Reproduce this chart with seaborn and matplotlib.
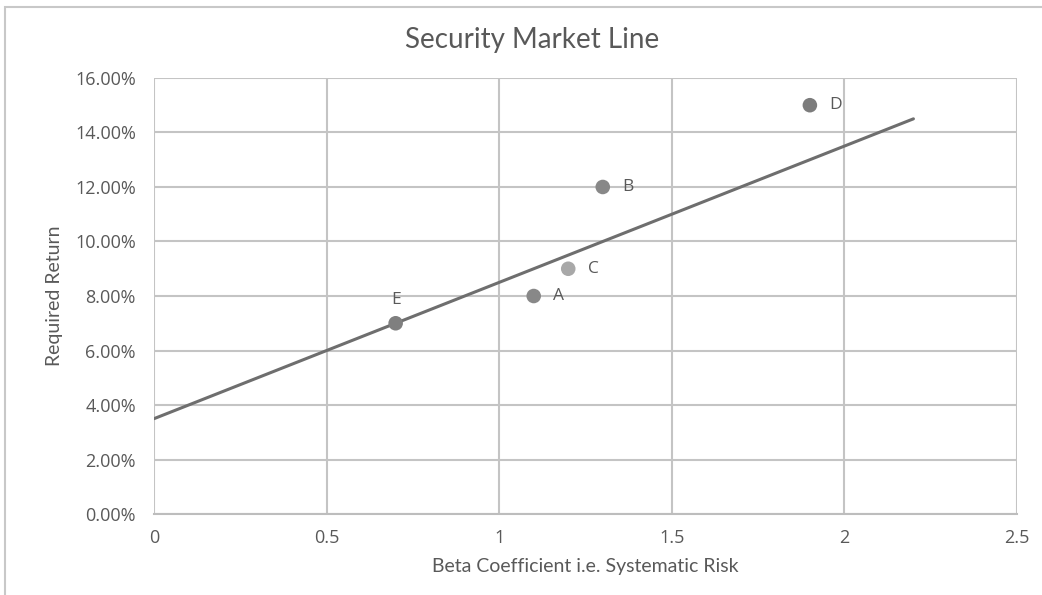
import matplotlib
matplotlib.use("Agg")
import matplotlib.pyplot as plt
from matplotlib.patches import Rectangle
from matplotlib.ticker import PercentFormatter, MultipleLocator
import seaborn as sns
import pandas as pd

# Securities plotted against the SML
securities = ["A", "B", "C", "D", "E"]
betas = [1.1, 1.3, 1.2, 1.9, 0.7]
returns = [0.08, 0.12, 0.09, 0.15, 0.07]
point_colors = ["#888888", "#888888", "#a8a8a8", "#7c7c7c", "#7f7f7f"]

# Security Market Line end points
line_beta = [0.0, 2.2]
line_return = [0.035, 0.145]

sns.set_theme(style="white")
plt.rcParams["font.family"] = ["Open Sans", "DejaVu Sans"]

fig = plt.figure(figsize=(10.42, 5.95), dpi=100)
ax = fig.add_axes([0.1478, 0.136, 0.8282, 0.733])

grid_c = "#c4c4c4"
text_c = "#595959"

sns.lineplot(x=line_beta, y=line_return, ax=ax, color="#6e6e6e", linewidth=2.2, zorder=3)

df = pd.DataFrame({"security": securities, "beta": betas, "ret": returns})
sns.scatterplot(data=df, x="beta", y="ret", hue="security", palette=point_colors,
                s=110, edgecolor="none", legend=False, ax=ax, zorder=4)

for name, b, r in zip(securities, betas, returns):
    if name == "E":
        ax.annotate(name, (b, r), xytext=(0, 17), textcoords="offset points",
                    ha="center", va="center", fontsize=12.5, color=text_c,
                    family="Open Sans")
    else:
        ax.annotate(name, (b, r), xytext=(14, 0), textcoords="offset points",
                    ha="left", va="center", fontsize=12.5, color=text_c,
                    family="Open Sans")

ax.set_xlim(0, 2.5)
ax.set_ylim(0, 0.16)
ax.xaxis.set_major_locator(MultipleLocator(0.5))
ax.yaxis.set_major_locator(MultipleLocator(0.02))
ax.yaxis.set_major_formatter(PercentFormatter(1.0, decimals=2))
ax.set_xticks([0, 0.5, 1, 1.5, 2, 2.5])
ax.set_xticklabels(["0", "0.5", "1", "1.5", "2", "2.5"])

ax.grid(True, color=grid_c, linewidth=1.5)
ax.set_axisbelow(True)
for side in ["top", "right", "left"]:
    ax.spines[side].set_visible(False)
ax.spines["bottom"].set_color("#bdbdbd")
ax.spines["bottom"].set_linewidth(1.5)

ax.tick_params(axis="both", length=0, labelsize=13, labelcolor=text_c)
ax.tick_params(axis="y", pad=13)
ax.tick_params(axis="x", pad=11)

ax.set_xlabel("Beta Coefficient i.e. Systematic Risk", fontsize=14, color=text_c,
              family="Lato", labelpad=8)
ax.set_ylabel("Required Return", fontsize=14, color=text_c, family="Lato", labelpad=9)

fig.text(0.5105, 0.932, "Security Market Line", ha="center", va="center",
         fontsize=20, color=text_c, family="Lato")

# chart-area border
fig.patches.append(Rectangle((0.005, -0.01), 1.1, 0.998, transform=fig.transFigure,
                             fill=False, edgecolor="#c8c8c8", linewidth=1.5))

fig.savefig("out.png", dpi=100)
